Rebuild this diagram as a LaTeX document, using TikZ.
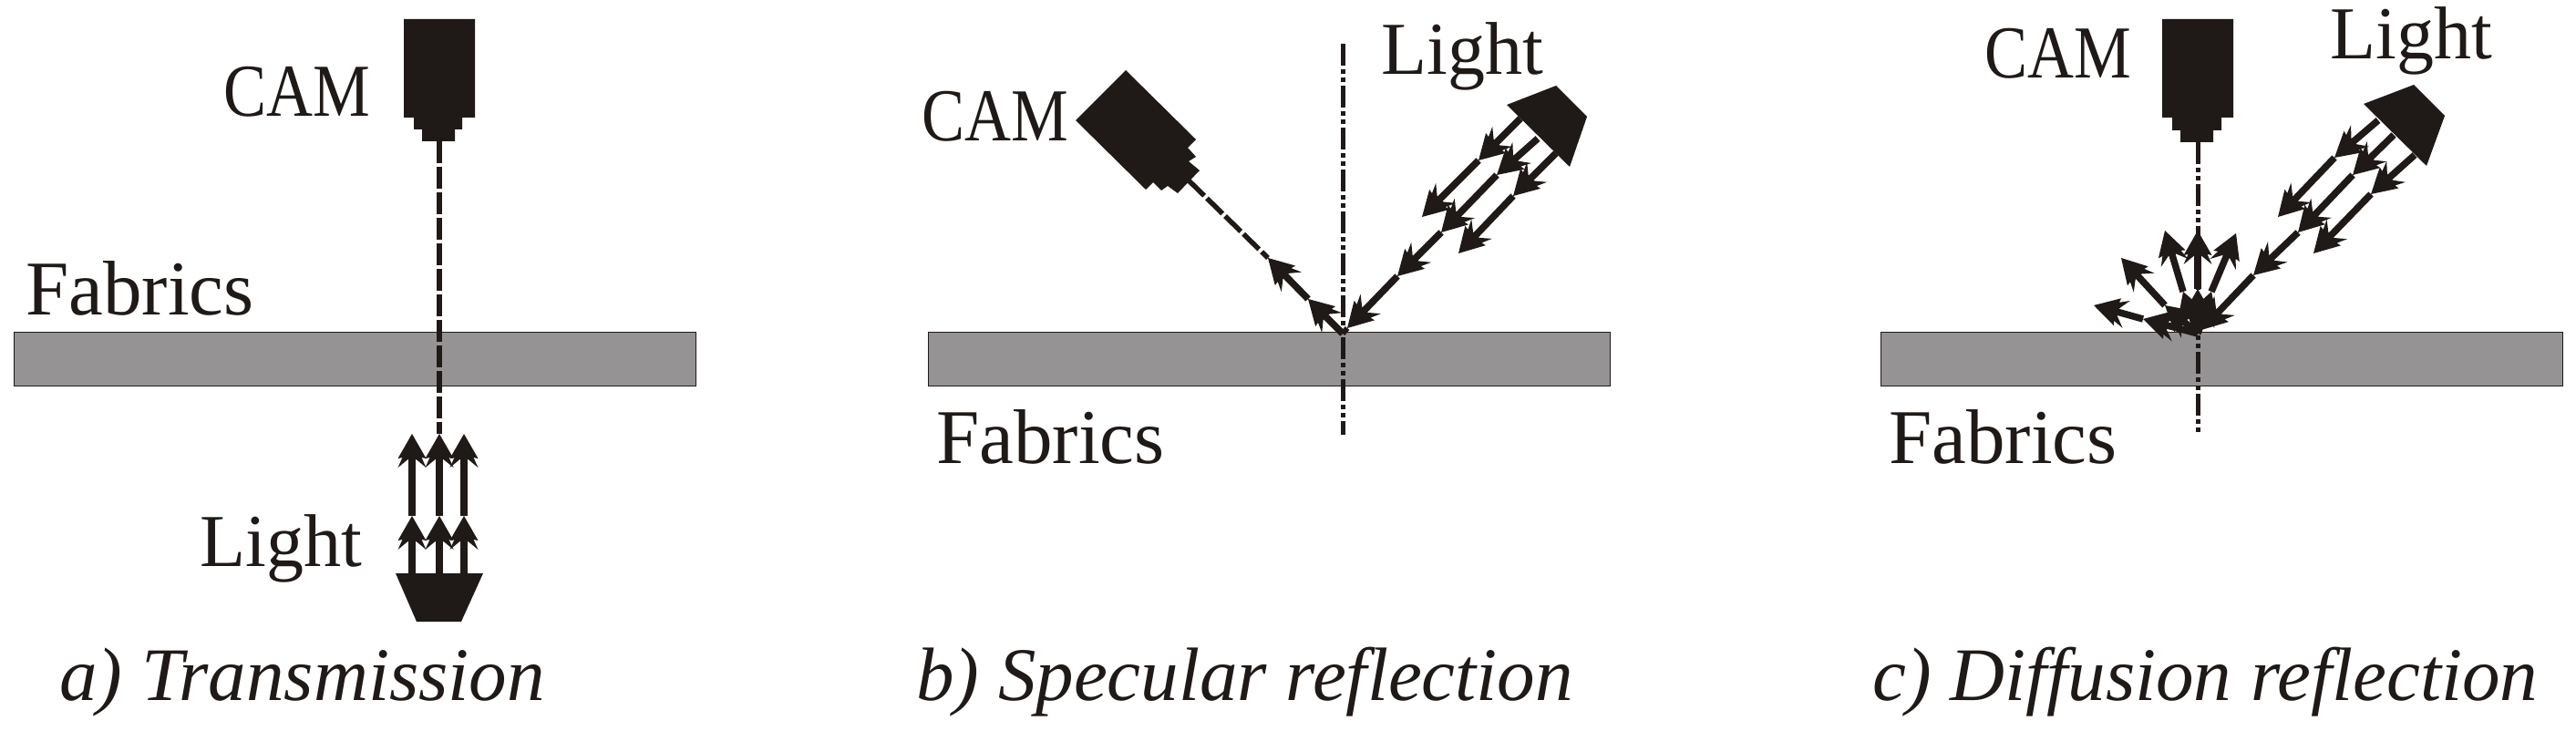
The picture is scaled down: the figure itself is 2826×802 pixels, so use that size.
\documentclass[tikz,border=0pt]{standalone}
\usepackage{fontspec}
\usepackage{graphicx}
\setmainfont{Liberation Serif}
\definecolor{ink}{HTML}{1F1A17}
\definecolor{fabric}{HTML}{959394}
\pgfdeclarearrow{
  name=TreeHead,
  setup code={
    \pgfarrowssettipend{0pt}
    \pgfarrowssetbackend{-37pt}
    \pgfarrowssetlineend{-26pt}
    \pgfarrowssetvisualbackend{-26pt}
  },
  drawing code={
    \pgfpathmoveto{\pgfqpoint{0pt}{0pt}}
    \pgfpathlineto{\pgfqpoint{-27pt}{15.5pt}}
    \pgfpathlineto{\pgfqpoint{-26pt}{10.5pt}}
    \pgfpathlineto{\pgfqpoint{-37pt}{15.5pt}}
    \pgfpathlineto{\pgfqpoint{-28pt}{4.5pt}}
    \pgfpathlineto{\pgfqpoint{-28pt}{-4.5pt}}
    \pgfpathlineto{\pgfqpoint{-37pt}{-15.5pt}}
    \pgfpathlineto{\pgfqpoint{-26pt}{-10.5pt}}
    \pgfpathlineto{\pgfqpoint{-27pt}{-15.5pt}}
    \pgfpathclose
    \pgfusepathqfill
  }
}
\tikzset{
  lbl/.style={anchor=base west,inner sep=0pt,text=ink,font=\fontsize{82}{82}\selectfont},
  fablbl/.style={anchor=base west,inner sep=0pt,text=ink,font=\fontsize{85}{85}\selectfont},
  captext/.style={anchor=base west,inner sep=0pt,text=ink,font=\fontsize{83}{83}\selectfont\itshape},
  sheet/.style={fill=fabric,draw=ink,line width=1.2pt,minimum width=748pt,minimum height=59pt,inner sep=0pt,anchor=north west},
  device/.style={fill=ink,draw=none},
  ray/.style={color=ink,line width=7.5pt,-{TreeHead}},
  plain/.style={color=ink,line width=6pt},
  viewdash/.style={draw=ink,line width=5.5pt,dash pattern=on 24pt off 4pt},
  axisline/.style={draw=ink,line width=5pt,dash pattern=on 24pt off 4pt on 5pt off 4pt on 5pt off 4pt},
}
\newcommand{\camcaps}{\scalebox{.86}[1]{CAM}}
\begin{document}
\begin{tikzpicture}[x=1pt,y=-1pt]
\useasboundingbox (0,0) rectangle (2826,802);
% ---------- a) Transmission
\node[sheet] (fa) at (15,364) {};
\node[lbl] (cama) at (245,128) {\camcaps};
\node[fablbl] (faba) at (28,345) {Fabrics};
\node[lbl] (lighta) at (219,621) {Light};
\node[captext] (capa) at (65,768) {a) Transmission};
\draw[device] (443,21) -- (521,21) -- (521,129) -- (507,129) -- (507,142) -- (499,142) -- (499,155) -- (463,155) -- (463,142) -- (454,142) -- (454,129) -- (443,129) -- cycle;
\draw[device] (434,629) -- (530,629) -- (506,682) -- (457,682) -- cycle;
\coordinate (a0) at (482,155);
\coordinate (a1s) at (452,630); \coordinate (a1m) at (452,566); \coordinate (a1t) at (452,476);
\coordinate (a2s) at (482,630); \coordinate (a2m) at (482,566); \coordinate (a2t) at (482,476);
\coordinate (a3s) at (509,630); \coordinate (a3m) at (509,566); \coordinate (a3t) at (509,476);
\draw[viewdash] (a0) -- (a2t);
\draw[ray] (a1s) -- (a1m); \draw[ray] (a1m) -- (a1t);
\draw[ray] (a2s) -- (a2m); \draw[ray] (a2m) -- (a2t);
\draw[ray] (a3s) -- (a3m); \draw[ray] (a3m) -- (a3t);
% ---------- b) Specular reflection
\node[sheet] (fb) at (1018,364) {};
\node[lbl] (camb) at (1011,155) {\camcaps};
\node[lbl] (lightb) at (1515,82) {Light};
\node[fablbl] (fabb) at (1027,508) {Fabrics};
\node[captext] (capb) at (1005,768) {b) Specular reflection};
\draw[device] (1235,77) -- (1180,132) -- (1257,208) -- (1265,200) -- (1274,209) -- (1281,204) -- (1292,212) -- (1316,187) -- (1304,177) -- (1312,172) -- (1303,162) -- (1312,153) -- cycle;
\draw[device] (1707,94) -- (1653,115) -- (1722,183) -- (1741,128) -- cycle;
\coordinate (bn1) at (1473.5,48); \coordinate (bn2) at (1473.5,477);
\draw[axisline] (bn1) -- (bn2);
\coordinate (bc) at (1473,366);
\coordinate (bcam) at (1304,198);
\coordinate (br1) at (1435,328); \coordinate (br2) at (1391,283);
\draw[viewdash] (bcam) -- (br2);
\draw[ray] (bc) -- (br1); \draw[ray] (br1) -- (br2);
\coordinate (bl1) at (1668,130); \coordinate (bl2) at (1622,176); \coordinate (bl3) at (1560,238);
\coordinate (bm1) at (1687,152); \coordinate (bm2) at (1642,192); \coordinate (bm3) at (1581,255); \coordinate (bm4) at (1533,303); \coordinate (bm5) at (1478,360);
\coordinate (bk1) at (1707,168); \coordinate (bk2) at (1660,215); \coordinate (bk3) at (1600,278);
\draw[plain] (bc) -- (bm5);
\draw[ray] (bl1) -- (bl2); \draw[ray] (bl2) -- (bl3);
\draw[ray] (bm1) -- (bm2); \draw[ray] (bm2) -- (bm3); \draw[ray] (bm3) -- (bm4); \draw[ray] (bm4) -- (bm5);
\draw[ray] (bk1) -- (bk2); \draw[ray] (bk2) -- (bk3);
% ---------- c) Diffusion reflection
\node[sheet] (fc) at (2063,364) {};
\node[lbl] (camc) at (2177,86) {\camcaps};
\node[lbl] (lightc) at (2556,65) {Light};
\node[fablbl] (fabc) at (2072,508) {Fabrics};
\node[captext] (capc) at (2054,768) {c) Diffusion reflection};
\draw[device] (2372,21) -- (2450,21) -- (2450,129) -- (2437,129) -- (2437,143) -- (2428,143) -- (2428,156) -- (2392,156) -- (2392,143) -- (2383,143) -- (2383,129) -- (2372,129) -- cycle;
\draw[device] (2648,93) -- (2593,114) -- (2662,182) -- (2682,127) -- cycle;
\coordinate (cn1) at (2411,156); \coordinate (cn2) at (2411,477);
\draw[axisline] (cn1) -- (cn2);
\coordinate (cc) at (2411,366);
\coordinate (cl1) at (2609,132); \coordinate (cl2) at (2561,173); \coordinate (cl3) at (2499,238);
\coordinate (cm1) at (2626,148); \coordinate (cm2) at (2581,192); \coordinate (cm3) at (2521,255); \coordinate (cm4) at (2472,302); \coordinate (cm5) at (2415,362);
\coordinate (ck1) at (2649,170); \coordinate (ck2) at (2601,213); \coordinate (ck3) at (2538,278);
\draw[ray] (cl1) -- (cl2); \draw[ray] (cl2) -- (cl3);
\draw[ray] (cm1) -- (cm2); \draw[ray] (cm2) -- (cm3); \draw[ray] (cm3) -- (cm4); \draw[ray] (cm4) -- (cm5);
\draw[ray] (ck1) -- (ck2); \draw[ray] (ck2) -- (ck3);
\coordinate (da1) at (2411,317); \coordinate (da2) at (2411,253);
\coordinate (db1) at (2395,320); \coordinate (db2) at (2375,253);
\coordinate (dc1) at (2426,320); \coordinate (dc2) at (2453,256);
\coordinate (dd1) at (2375,335); \coordinate (dd2) at (2327,283);
\coordinate (de1) at (2351,350); \coordinate (de2) at (2297,335);
\draw[ray] (cc) -- (da1); \draw[ray] (da1) -- (da2);
\draw[ray] (cc) -- (db1); \draw[ray] (db1) -- (db2);
\draw[ray] (cc) -- (dc1); \draw[ray] (dc1) -- (dc2);
\draw[ray] (cc) -- (dd1); \draw[ray] (dd1) -- (dd2);
\draw[ray] (cc) -- (de1); \draw[ray] (de1) -- (de2);
\end{tikzpicture}
\end{document}
